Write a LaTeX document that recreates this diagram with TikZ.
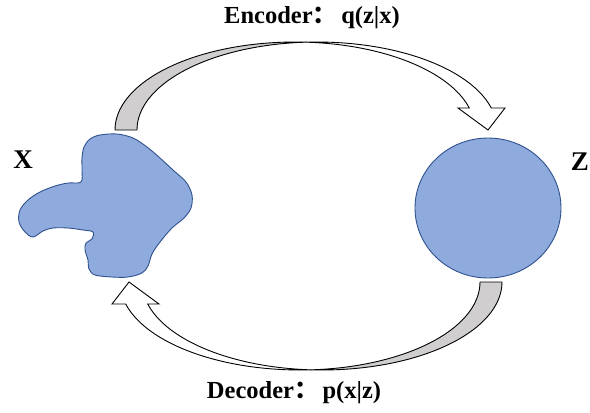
\documentclass[tikz,border=0pt]{standalone}
\usepackage{fontspec}
\usetikzlibrary{shapes.geometric}
\setmainfont{Liberation Serif}
\newfontfamily\cjk{Noto Sans CJK SC}
\definecolor{shapefill}{HTML}{8FAADC}
\definecolor{shapeline}{HTML}{2F528F}
\definecolor{underside}{HTML}{D0CECE}
\tikzset{
  blobstyle/.style={fill=shapefill, draw=shapeline, line width=0.9pt, line join=round},
  bandgray/.style={fill=underside, draw=black, line width=0.9pt, line join=round},
  bandwhite/.style={fill=white, draw=black, line width=0.9pt, line join=miter},
  biglabel/.style={font=\bfseries\fontsize{27}{30}\selectfont, inner sep=0pt},
  caption/.style={font=\bfseries\fontsize{24.5}{28}\selectfont, inner sep=0pt},
  curvedarrow/.pic={
    % underside of the band (two ellipses shifted sideways)
    \path[bandgray]
      plot[domain=180:273.5, samples=50] ({-11+180*cos(\x)},{88*sin(\x)})
      -- plot[domain=266.5:180, samples=50] ({11+180*cos(\x)},{88*sin(\x)})
      -- cycle;
    % top face of the band with the head
    \path[bandwhite]
      plot[domain=266.5:345.52, samples=50] ({11+180*cos(\x)},{88*sin(\x)})
      -- (199,-22) -- (182,0) -- (152,-22)
      -- plot[domain=345.52:273.5, samples=50] ({-11+180*cos(\x)},{88*sin(\x)})
      -- cycle;
  }
}
\begin{document}
\begin{tikzpicture}[x=1pt, y=-1pt]
  \useasboundingbox (0,0) rectangle (590,413);

  % encoder and decoder bands
  \pic at (306,130) {curvedarrow};
  \pic[rotate=180] at (311,282) {curvedarrow};

  % data space X
  \path[blobstyle] plot[smooth cycle, tension=0.55] coordinates {
    (100,135) (117,134) (133,138) (147,147) (160,158) (173,170) (186,182)
    (192,195) (191,208) (184,218) (172,228) (160,242) (152,254) (148,266)
    (142,273) (128,277) (112,277) (95,275) (89,269) (88,260) (85,250)
    (86,243) (92,239) (93,232) (83,230) (68,228) (53,228) (43,231)
    (33,237) (25,232) (19,222) (20,210) (28,200) (40,192) (55,186)
    (68,183) (81,182) (82,170) (82,158) (84,147) (90,139)};
  \coordinate (xspace) at (110,205);

  % latent space Z
  \node[blobstyle, ellipse, minimum width=146pt, minimum height=140pt, inner sep=0pt]
    (zspace) at (488,208) {};

  % labels
  \node[biglabel] (xlab) at (23,160) {X};
  \node[biglabel] (zlab) at (580,162) {Z};
  \node[caption] (enc) at (312,18) {Encoder{\cjk：}\,q(z|x)};
  \node[caption] (dec) at (294,393) {Decoder{\cjk：}\,p(x|z)};
\end{tikzpicture}
\end{document}
